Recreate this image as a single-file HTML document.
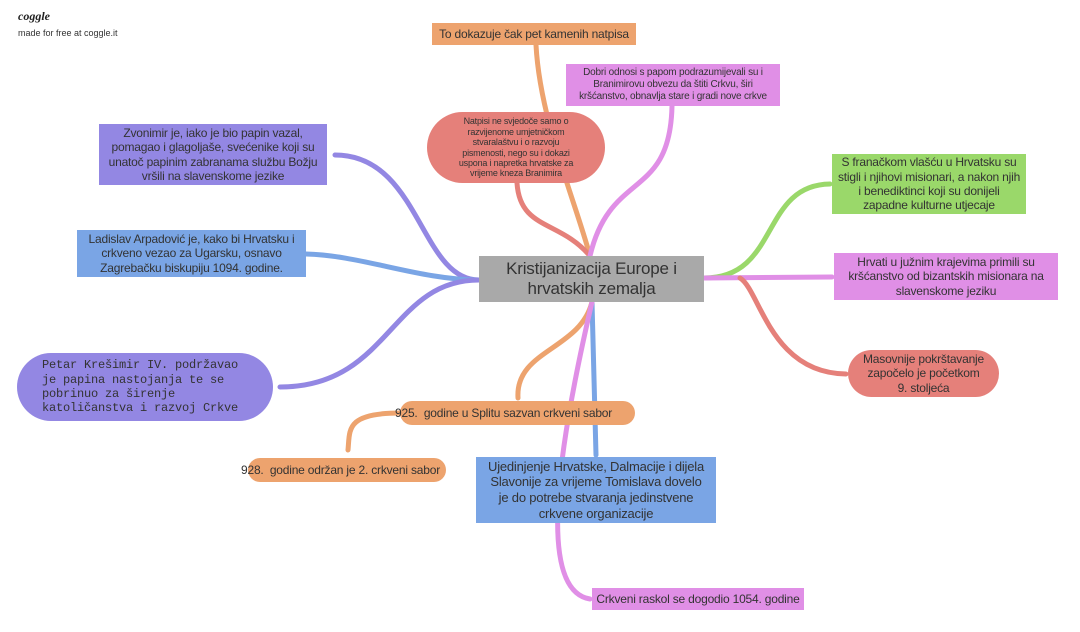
<!DOCTYPE html>
<html><head><meta charset="utf-8"><style>
body{margin:0;width:1080px;height:632px;background:#fff;position:relative;overflow:hidden;font-family:"Liberation Sans",sans-serif}
.b{position:absolute;display:flex;align-items:center;justify-content:center;text-align:center;color:#333;box-sizing:border-box;line-height:1.2;letter-spacing:-0.2px}
.n{white-space:nowrap}
svg{position:absolute;left:0;top:0}
</style></head><body>
<div style="position:absolute;left:18px;top:9px;font:italic bold 12px 'Liberation Serif',serif;color:#222">coggle</div>
<div style="position:absolute;left:18px;top:28px;font-size:9px;color:#333">made for free at coggle.it</div>
<svg width="1080" height="632" fill="none" stroke-linecap="round">
<path d="M590 256 C575 200 540 120 536 45" stroke="#eda36e" stroke-width="5"/>
<path d="M590 256 C560 220 520 230 517 183" stroke="#e5807a" stroke-width="5"/>
<path d="M590 256 C610 170 670 200 672 106" stroke="#e08fe6" stroke-width="5"/>
<path d="M479 280 C420 280 420 155 335 155" stroke="#9387e3" stroke-width="5"/>
<path d="M479 280 C420 280 360 255 306 254" stroke="#7aa5e5" stroke-width="5"/>
<path d="M479 280 C390 280 390 387 280 387" stroke="#9387e3" stroke-width="5"/>
<path d="M704 278 C780 278 760 185 830 184" stroke="#9ad86a" stroke-width="5"/>
<path d="M704 278 L832 277" stroke="#e08fe6" stroke-width="5"/>
<path d="M740 278 C760 290 770 373 846 374" stroke="#e5807a" stroke-width="5"/>
<path d="M592 302 C580 350 515 350 518 398" stroke="#eda36e" stroke-width="5"/>
<path d="M592 302 L596 455" stroke="#7aa5e5" stroke-width="5"/>
<path d="M592 302 C560 440 535 590 590 599" stroke="#e08fe6" stroke-width="5"/>
<path d="M400 413 C345 413 350 430 348 450" stroke="#eda36e" stroke-width="5"/>
</svg>
<div class="b" style="left:479px;top:256px;width:225px;height:46px;background:#a9a9a9;font-size:17px;color:#333">Kristijanizacija Europe i<br>hrvatskih zemalja</div>
<div class="b n" style="left:432px;top:23px;width:204px;height:22px;background:#eda36e;font-size:12px">To dokazuje čak pet kamenih natpisa</div>
<div class="b" style="left:566px;top:64px;width:214px;height:42px;background:#e08fe6;font-size:10px;padding:0 4px">Dobri odnosi s papom podrazumijevali su i Branimirovu obvezu da štiti Crkvu, širi kršćanstvo, obnavlja stare i gradi nove crkve</div>
<div class="b" style="left:427px;top:112px;width:178px;height:71px;background:#e5807a;border-radius:36px;font-size:9px;padding:0 26px;line-height:1.15">Natpisi ne svjedoče samo o razvijenome umjetničkom stvaralaštvu i o razvoju pismenosti, nego su i dokazi uspona i napretka hrvatske za vrijeme kneza Branimira</div>
<div class="b" style="left:99px;top:124px;width:228px;height:61px;background:#9387e3;font-size:12px;padding:0 6px">Zvonimir je, iako je bio papin vazal, pomagao i glagoljaše, svećenike koji su unatoč papinim zabranama službu Božju vršili na slavenskome jezike</div>
<div class="b" style="left:77px;top:230px;width:229px;height:47px;background:#7aa5e5;font-size:12px;padding:0 8px">Ladislav Arpadović je, kako bi Hrvatsku i crkveno vezao za Ugarsku, osnavo Zagrebačku biskupiju 1094. godine.</div>
<div class="b n" style="left:17px;top:353px;width:256px;height:68px;background:#9387e3;border-radius:34px;font:12px 'Liberation Mono',monospace;text-align:left;justify-content:flex-start;padding-left:25px;color:#333;line-height:1.2">Petar Krešimir IV. podržavao<br>je papina nastojanja te se<br>pobrinuo za širenje<br>katoličanstva i razvoj Crkve</div>
<div class="b" style="left:832px;top:154px;width:194px;height:60px;background:#9ad86a;font-size:12px;padding:0 4px">S franačkom vlašću u Hrvatsku su stigli i njihovi misionari, a nakon njih i benediktinci koji su donijeli zapadne kulturne utjecaje</div>
<div class="b" style="left:834px;top:253px;width:224px;height:47px;background:#e08fe6;font-size:12px;padding:0 8px">Hrvati u južnim krajevima primili su kršćanstvo od bizantskih misionara na slavenskome jeziku</div>
<div class="b" style="left:848px;top:350px;width:151px;height:47px;background:#e5807a;border-radius:24px;font-size:12px">Masovnije pokrštavanje<br>započelo je početkom<br>9. stoljeća</div>
<div class="b n" style="left:388px;top:401px;width:247px;height:24px;font-size:12px;justify-content:flex-start"><div style="position:absolute;left:12px;top:0;width:235px;height:24px;background:#eda36e;border-radius:12px"></div><span style="position:relative;padding-left:7px">925.&nbsp; godine u Splitu sazvan crkveni sabor</span></div>
<div class="b n" style="left:240px;top:458px;width:206px;height:24px;font-size:12px;justify-content:flex-start"><div style="position:absolute;left:8px;top:0;width:198px;height:24px;background:#eda36e;border-radius:12px"></div><span style="position:relative;padding-left:1px">928.&nbsp; godine održan je 2. crkveni sabor</span></div>
<div class="b" style="left:476px;top:457px;width:240px;height:66px;background:#7aa5e5;font-size:13px;padding:0 8px">Ujedinjenje Hrvatske, Dalmacije i dijela Slavonije za vrijeme Tomislava dovelo je do potrebe stvaranja jedinstvene crkvene organizacije</div>
<div class="b n" style="left:592px;top:588px;width:212px;height:22px;background:#e08fe6;font-size:12px">Crkveni raskol se dogodio 1054. godine</div>
</body></html>
